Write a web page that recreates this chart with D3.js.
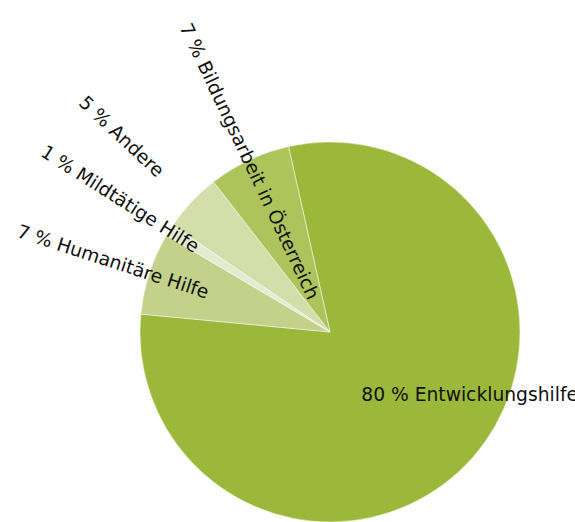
<!DOCTYPE html>
<html>
<head>
<meta charset="utf-8">
<script src="https://cdn.jsdelivr.net/npm/d3@7"></script>
<style>
  html, body { margin: 0; padding: 0; background: #fff; overflow: hidden; }
</style>
</head>
<body>
<svg id="chart"></svg>
<script>
// chart data
const categories = [
  "Entwicklungshilfe",
  "Humanitäre Hilfe",
  "Mildtätige Hilfe",
  "Andere",
  "Bildungsarbeit in Österreich"
];
const percents = [80, 7, 1, 5, 7];
const colors = ["#9cb83b", "#c3d18b", "#e5ebd0", "#d4deab", "#adc45c"];

const width = 575;
const height = 522;
const cx = 330;
const cy = 332;
const radius = 190;
const labelRadius = 340;
const leftMargin = 18;

const data = categories.map((c, i) => ({ name: c, value: percents[i], color: colors[i] }));

const svg = d3.select("#chart").attr("width", width).attr("height", height);
const g = svg.append("g").attr("transform", `translate(${cx},${cy})`);

const startAngle = (-12.6 * Math.PI) / 180;
const pie = d3
  .pie()
  .sort(null)
  .value((d) => d.value)
  .startAngle(startAngle)
  .endAngle(startAngle + 2 * Math.PI);

const arc = d3.arc().innerRadius(0).outerRadius(radius);
const arcs = pie(data);

g.selectAll("path.slice")
  .data(arcs)
  .enter()
  .append("path")
  .attr("class", "slice")
  .attr("d", arc)
  .attr("fill", (d) => d.data.color)
  .attr("stroke", "rgba(255,255,255,0.45)")
  .attr("stroke-width", 1);

// labels
g.selectAll("text.label")
  .data(arcs)
  .enter()
  .append("text")
  .attr("class", "label")
  .attr("font-family", "'DejaVu Sans', Verdana, sans-serif")
  .attr("font-size", 18.7)
  .attr("fill", "#111")
  .attr("dy", "0.35em")
  .each(function (d) {
    const t = d3.select(this);
    const mid = (d.startAngle + d.endAngle) / 2;
    const label = `${d.data.value} % ${d.data.name}`;
    t.text(label);
    if (d.data.value >= 50) {
      // big slice: horizontal label near centroid
      const [x, y] = arc.centroid(d);
      t.attr("x", x - 40).attr("y", y).attr("text-anchor", "start");
    } else {
      // small slices: radial label reading towards the centre
      const s = Math.sin(mid);
      let r = labelRadius;
      if (s < 0) r = Math.min(r, (cx - leftMargin) / -s);
      const x = r * Math.sin(mid);
      const y = -r * Math.cos(mid);
      const rot = (Math.atan2(-y, -x) * 180) / Math.PI;
      t.attr("text-anchor", "start")
        .attr("transform", `translate(${x},${y}) rotate(${rot})`);
    }
  });
</script>
</body>
</html>
